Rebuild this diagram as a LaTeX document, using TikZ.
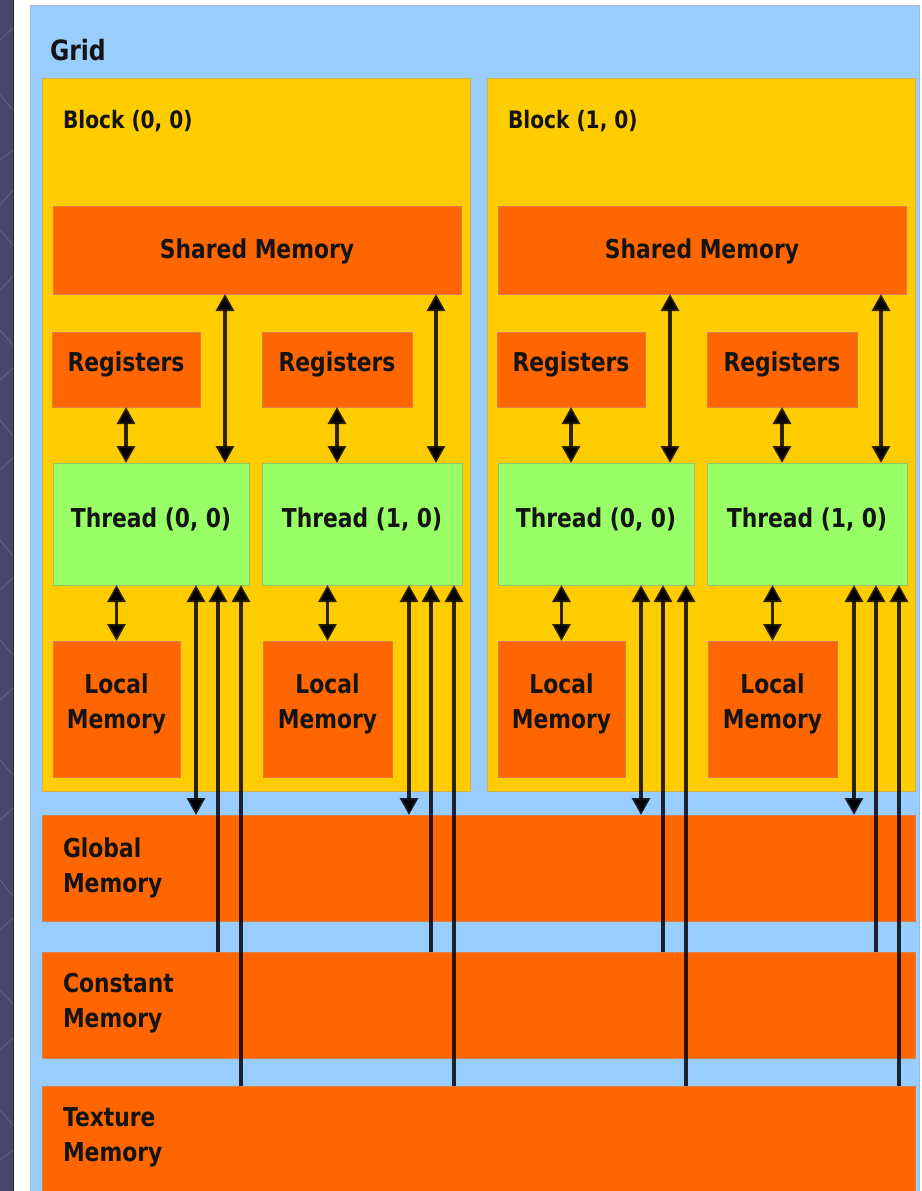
\documentclass[tikz,border=0pt]{standalone}
\usepackage{fontspec}
\newfontfamily\labfont{DejaVu Sans}[FakeStretch=0.84]
\usetikzlibrary{arrows.meta}
\definecolor{gridblue}{HTML}{99CCFF}
\definecolor{gridedge}{HTML}{A8B8C8}
\definecolor{blockgold}{HTML}{FFCC00}
\definecolor{blockedge}{HTML}{D2B24A}
\definecolor{memorange}{HTML}{FF6600}
\definecolor{memedge}{HTML}{D8804A}
\definecolor{thrgreen}{HTML}{99FF66}
\definecolor{thredge}{HTML}{8CC86A}
\definecolor{stripblue}{HTML}{46466E}
\definecolor{stripline}{HTML}{6A6A94}
\definecolor{inkdark}{HTML}{141414}
\tikzset{
  box/.style={rectangle, inner sep=0pt, outer sep=0pt, anchor=north west, line width=0.8pt},
  gridbox/.style={box, fill=gridblue, draw=gridedge},
  blockbox/.style={box, fill=blockgold, draw=blockedge},
  membox/.style={box, fill=memorange, draw=memedge},
  thrbox/.style={box, fill=thrgreen, draw=thredge},
  lab/.style={font=\labfont\bfseries\fontsize{26}{35}\selectfont, text=inkdark, inner sep=0pt, outer sep=0pt},
  dbl/.style={{Triangle[length=17pt,width=18pt]}-{Triangle[length=17pt,width=18pt]}, line width=3.2pt, draw=black, draw opacity=0.82, fill=black},
  sgl/.style={-{Triangle[length=17pt,width=18pt]}, line width=3.2pt, draw=black, draw opacity=0.82, fill=black}
}
% #1 style, #2 x1, #3 y1, #4 x2, #5 y2, #6 name
\newcommand\mybox[6]{\node[#1, minimum width={(#4-#2)*1pt}, minimum height={(#5-#3)*1pt}] (#6) at (#2,#3) {};}
% #1 thread, #2 registers, #3 local, #4 shared, #5 xshift of shared arrow, #6 suffix
\newcommand\threadarrows[6]{%
  \draw[dbl] (#2.south) -- (#2.south |- #1.north);
  \coordinate (sa#6) at ([xshift=#5pt]#1.north east);
  \draw[dbl] (sa#6) -- (sa#6 |- #4.south);
  \draw[dbl] (#3.north) -- (#3.north |- #1.south);
  \coordinate (ga#6) at ([xshift=-53pt]#1.south east);
  \coordinate (ca#6) at ([xshift=-31pt]#1.south east);
  \coordinate (ta#6) at ([xshift=-8pt]#1.south east);
  \draw[dbl] (ga#6) -- (ga#6 |- glob.north);
  \draw[sgl] (ca#6 |- const.north) -- (ca#6);
  \draw[sgl] (ta#6 |- tex.north) -- (ta#6);
}
\begin{document}
\begin{tikzpicture}[x=1pt,y=-1pt]
\useasboundingbox (0,0) rectangle (921,1191);
\fill[white] (0,0) rectangle (921,1191);
% left decorative strip
\fill[stripblue] (0,0) rectangle (13,1191);
\foreach \ya/\yb in {40/28, 95/110, 160/150, 205/190, 230/245, 290/276, 330/345, 380/368, 420/436, 470/458, 540/556, 590/578, 640/655, 700/688, 760/775, 820/808, 880/896, 930/918, 990/1004, 1050/1038, 1110/1125, 1160/1150}
  \draw[stripline, line width=0.6pt] (0,\ya) -- (13,\yb);
\draw[black!85, line width=1.4pt] (13.7,0) -- (13.7,1191);
% grid
\node[gridbox, minimum width=889pt, minimum height=1200pt] (grid) at (30,5) {};
% blocks
\mybox{blockbox}{42}{78}{470}{791}{blk0}
\mybox{blockbox}{487}{78}{915}{791}{blk1}
% shared memory
\mybox{membox}{53}{206}{461}{294}{sh0}
\mybox{membox}{498}{206}{906}{294}{sh1}
% registers
\mybox{membox}{52}{332}{200}{407}{reg00}
\mybox{membox}{262}{332}{412}{407}{reg10}
\mybox{membox}{497}{332}{645}{407}{reg01}
\mybox{membox}{707}{332}{857}{407}{reg11}
% threads
\mybox{thrbox}{53}{463}{249}{585}{thr00}
\mybox{thrbox}{262}{463}{462}{585}{thr10}
\mybox{thrbox}{498}{463}{694}{585}{thr01}
\mybox{thrbox}{707}{463}{907}{585}{thr11}
% local memory
\mybox{membox}{53}{641}{180}{777}{loc00}
\mybox{membox}{263}{641}{392}{777}{loc10}
\mybox{membox}{498}{641}{625}{777}{loc01}
\mybox{membox}{708}{641}{837}{777}{loc11}
% device memories
\mybox{membox}{42}{815}{915}{921}{glob}
\mybox{membox}{42}{952}{915}{1058}{const}
\mybox{membox}{42}{1086}{915}{1210}{tex}
% labels
\node[lab, font=\labfont\bfseries\fontsize{28}{34}\selectfont, anchor=base west] (gridlab) at (50,60) {Grid};
\node[lab, font=\labfont\bfseries\fontsize{24}{30}\selectfont, anchor=base west] (blk0lab) at (63,128) {Block (0, 0)};
\node[lab, font=\labfont\bfseries\fontsize{24}{30}\selectfont, anchor=base west] (blk1lab) at (508,128) {Block (1, 0)};
\node[lab, anchor=base] (sh0lab) at (sh0.center |- 0,258) {Shared Memory};
\node[lab, anchor=base] (sh1lab) at (sh1.center |- 0,258) {Shared Memory};
\foreach \r in {reg00,reg10,reg01,reg11}
  \node[lab, anchor=base] (\r lab) at (\r.center |- 0,371) {Registers};
\node[lab, anchor=base] (thr00lab) at (thr00.center |- 0,527) {Thread (0, 0)};
\node[lab, anchor=base] (thr10lab) at (thr10.center |- 0,527) {Thread (1, 0)};
\node[lab, anchor=base] (thr01lab) at (thr01.center |- 0,527) {Thread (0, 0)};
\node[lab, anchor=base] (thr11lab) at (thr11.center |- 0,527) {Thread (1, 0)};
\foreach \l in {loc00,loc10,loc01,loc11}
  \node[lab, align=center, anchor=base] (\l lab) at (\l.center |- 0,728) {Local\\Memory};
\node[lab, align=left, anchor=base west] (globlab) at (63,892) {Global\\Memory};
\node[lab, align=left, anchor=base west] (constlab) at (63,1027) {Constant\\Memory};
\node[lab, align=left, anchor=base west] (texlab) at (63,1161) {Texture\\Memory};
% connectors
\threadarrows{thr00}{reg00}{loc00}{sh0}{-24}{a}
\threadarrows{thr10}{reg10}{loc10}{sh0}{-26}{b}
\threadarrows{thr01}{reg01}{loc01}{sh1}{-24}{c}
\threadarrows{thr11}{reg11}{loc11}{sh1}{-26}{d}
\end{tikzpicture}
\end{document}
